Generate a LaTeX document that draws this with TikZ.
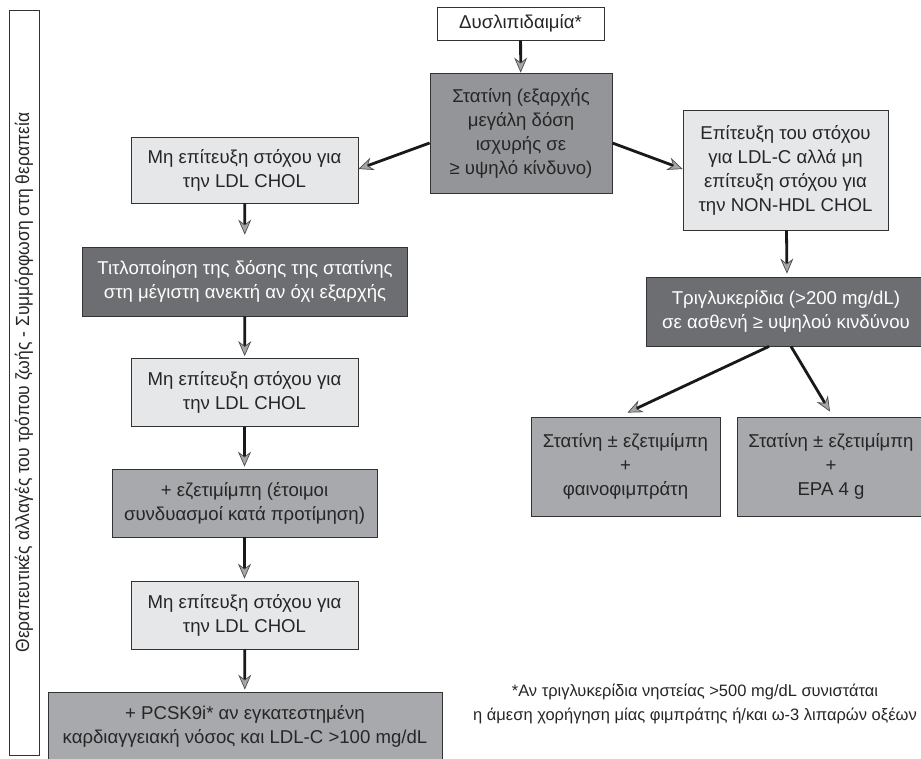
\documentclass[tikz,border=0pt]{standalone}
\usepackage{fontspec}
\setmainfont{Liberation Sans}
\usetikzlibrary{arrows.meta,calc}
\definecolor{lightbox}{HTML}{E6E7E8}
\definecolor{midbox}{HTML}{A7A9AC}
\definecolor{statbox}{HTML}{939598}
\definecolor{darkbox}{HTML}{6D6E71}
\definecolor{edge}{HTML}{333333}
\begin{document}
\begin{tikzpicture}[x=1pt,y=-1pt,
  box/.style={draw=edge, line width=0.8pt, align=center, inner sep=0pt,
    font=\fontsize{18.6}{24}\selectfont, text=black!85},
  light/.style={box, fill=lightbox},
  mid/.style={box, fill=midbox},
  dark/.style={box, fill=darkbox, text=white},
  arr/.style={line width=2.8pt, draw=black!90,
    -{Stealth[length=15pt,width=13pt,inset=5pt,fill=black!35,color=black!70,line width=0.7pt]}}]
\useasboundingbox (0,0) rectangle (921,758);
\clip (0,0) rectangle (921,758);

% side bar
\node[draw=edge, line width=0.8pt, rotate=90, minimum width=745, minimum height=30,
  inner sep=0pt, font=\fontsize{19}{22}\selectfont, text=black!85] (side) at (24,382.5)
  {\scalebox{0.92}[1]{Θεραπευτικές αλλαγές του τρόπου ζωής - Συμμόρφωση στη θεραπεία}};

% top
\node[box, fill=white, minimum width=167, minimum height=33] (dys) at (520.5,23.5) {Δυσλιπιδαιμία*};
\node[box, fill=statbox, minimum width=182, minimum height=120] (stat) at (521,133)
  {Στατίνη (εξαρχής\\μεγάλη δόση\\ισχυρής σε\\≥ υψηλό κίνδυνο)};

% left column
\node[light, minimum width=227, minimum height=66] (m1) at (244.5,170) {Μη επίτευξη στόχου για\\την LDL CHOL};
\node[dark, minimum width=325, minimum height=69] (titl) at (245,281.5)
  {Τιτλοποίηση της δόσης της στατίνης\\στη μέγιστη ανεκτή αν όχι εξαρχής};
\node[light, minimum width=227, minimum height=68] (m2) at (244.5,392.5) {Μη επίτευξη στόχου για\\την LDL CHOL};
\node[mid, minimum width=265, minimum height=68] (ez) at (244.5,503)
  {+ εζετιμίμπη (έτοιμοι\\συνδυασμοί κατά προτίμηση)};
\node[light, minimum width=227, minimum height=68] (m3) at (244.5,615) {Μη επίτευξη στόχου για\\την LDL CHOL};
\node[mid, minimum width=394, minimum height=68] (pcsk) at (245,726)
  {+ PCSK9i* αν εγκατεστημένη\\καρδιαγγειακή νόσος και LDL-C >100 mg/dL};

% right column
\node[light, minimum width=205, minimum height=120] (r1) at (785.5,170)
  {Επίτευξη του στόχου\\για LDL-C αλλά μη\\επίτευξη στόχου για\\την NON-HDL CHOL};
\node[dark, minimum width=280, minimum height=69] (trig) at (786,311.5)
  {Τριγλυκερίδια (>200 mg/dL)\\σε ασθενή ≥ υψηλού κινδύνου};
\node[mid, minimum width=189, minimum height=99] (b1) at (625.5,466.5)
  {Στατίνη ± εζετιμίμπη\\+\\φαινοφιμπράτη};
\node[mid, minimum width=188, minimum height=99] (b2) at (831,466.5)
  {Στατίνη ± εζετιμίμπη\\+\\EPA 4 g};

% footnote
\node[align=center, font=\fontsize{16.5}{24}\selectfont, text=black!85] (note) at (695,704)
  {*Αν τριγλυκερίδια νηστείας >500 mg/dL συνιστάται\\η άμεση χορήγηση μίας φιμπράτης ή/και ω-3 λιπαρών οξέων};

% arrows
\draw[arr] (dys) -- (stat);
\draw[arr] ([yshift=-10pt]stat.west) -- ([yshift=1pt]m1.east);
\draw[arr] ([yshift=-10pt]stat.east) -- ([yshift=1pt]r1.west);
\draw[arr, shorten >=12pt] (m1) -- (titl);
\draw[arr, shorten >=2pt] (titl) -- (m2);
\draw[arr, shorten >=2pt] (m2) -- (ez);
\draw[arr, shorten >=2pt] (ez) -- (m3);
\draw[arr, shorten >=2pt] (m3) -- (pcsk);
\draw[arr, shorten >=3pt] ([xshift=1pt]r1.south) -- ([xshift=1pt]trig.north);
\draw[arr] ([xshift=-17pt]trig.south) -- ([xshift=2pt,yshift=4pt]b1.north);
\draw[arr] ([xshift=5pt]trig.south) -- ([xshift=-1pt,yshift=5pt]b2.north);
\end{tikzpicture}
\end{document}
